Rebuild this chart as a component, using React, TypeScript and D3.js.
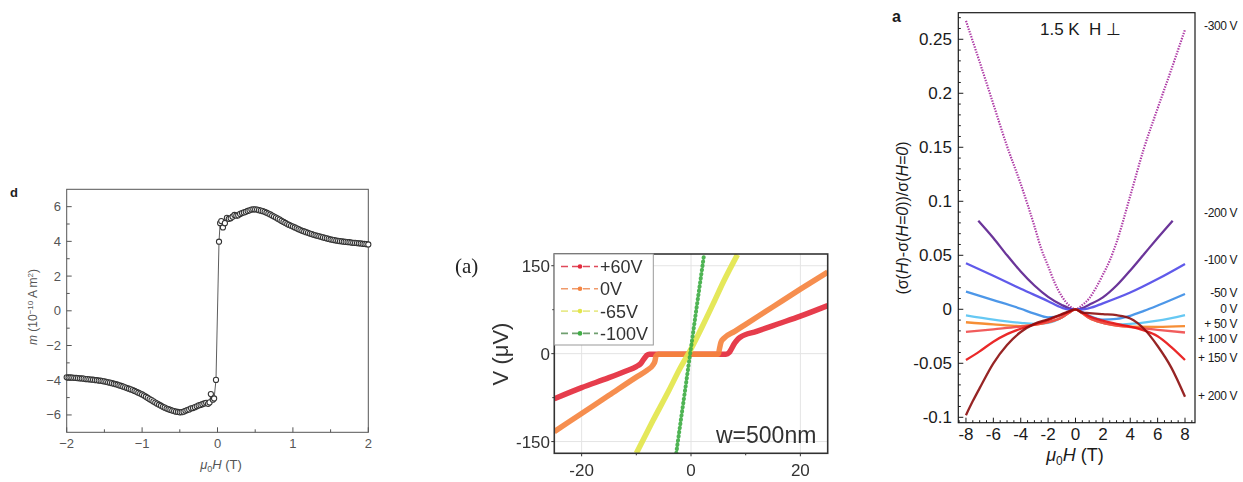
import React from 'react';
import * as d3 from 'd3';

// ---------- Panel d: magnetic moment loop ----------
const momentNegStart = -2;
const momentStep = 0.025;
const momentNeg = [
  -3.83, -3.84, -3.84, -3.85, -3.86, -3.87, -3.88, -3.89, -3.9, -3.91, -3.93, -3.94, -3.95, -3.96, -3.97, -3.99,
  -4.0, -4.02, -4.03, -4.05, -4.07, -4.09, -4.12, -4.14, -4.17, -4.2, -4.23, -4.26, -4.3, -4.33, -4.37, -4.41,
  -4.45, -4.49, -4.53, -4.57, -4.62, -4.67, -4.72, -4.77, -4.82, -4.88, -4.95, -5.02, -5.09, -5.15, -5.22, -5.29,
  -5.35, -5.41, -5.47, -5.53, -5.58, -5.63, -5.67, -5.71, -5.75, -5.78, -5.81, -5.83, -5.85, -5.84, -5.81, -5.76,
  -5.72, -5.68, -5.62, -5.6, -5.55, -5.5, -5.45, -5.42, -5.38, -5.34, -5.3, -5.36,
];
const coreField = [-0.105, -0.088, -0.062, -0.045, -0.02, 0.02, 0.035, 0.05, 0.072, 0.098];
const coreMoment = [-5.28, -4.8, -5.12, -5.05, -3.98, 3.98, 5.05, 5.17, 4.8, 5.05];
const momentPosStart = 0.125;
const momentPos = [
  5.35, 5.3, 5.33, 5.42, 5.52, 5.48, 5.5, 5.58, 5.63, 5.67, 5.7, 5.75, 5.79, 5.83, 5.85, 5.84,
  5.83, 5.8, 5.77, 5.74, 5.7, 5.65, 5.6, 5.55, 5.49, 5.43, 5.37, 5.31, 5.25, 5.18, 5.12, 5.06,
  5.0, 4.95, 4.9, 4.85, 4.8, 4.75, 4.7, 4.65, 4.61, 4.57, 4.53, 4.49, 4.45, 4.42, 4.38, 4.35,
  4.32, 4.29, 4.26, 4.23, 4.2, 4.17, 4.14, 4.11, 4.09, 4.07, 4.05, 4.03, 4.01, 4.0, 3.98, 3.97,
  3.96, 3.95, 3.93, 3.92, 3.91, 3.9, 3.89, 3.88, 3.86, 3.85, 3.84, 3.82,
];
const dXTicks = [-2, -1, 0, 1, 2];
const dYTicks = [-6, -4, -2, 0, 2, 4, 6];

// ---------- Panel (a) middle: V–I curves at gate voltages ----------
const ivSeries = [
  {
    label: '+60V', color: '#e42a3c', legend: '#e0485a',
    x: [-25, -20, -15, -12, -10, -9.2, -8.6, -8.1, -7.6, -6, 0, 5, 6.4, 7, 7.5, 8, 8.5, 9, 12, 16, 20, 25],
    y: [-77, -58, -41, -30, -22, -17, -9, -3, -1, -1, -1, -1, -1, 2, 10, 18, 24, 28, 38, 51, 64, 82],
  },
  {
    label: '0V', color: '#f5843f', legend: '#f09a6a',
    x: [-25, -20, -15, -10, -8, -7, -6.6, -6.4, -6, 0, 5, 5.2, 5.5, 6, 8, 10, 15, 20, 25],
    y: [-133, -102, -71, -40, -28, -20, -13, -4, -1, -1, -1, 8, 20, 26, 38, 50, 80, 110, 139],
  },
  {
    label: '-65V', color: '#e3e64c', legend: '#e8ea8c',
    x: [-10, -7, -4, -2, 0, 2, 4, 6, 8.5],
    y: [-170, -115, -62, -25, 8, 45, 84, 124, 169],
  },
  {
    label: '-100V', color: '#3fae45', legend: '#6f9f6f',
    x: [-2.7, -2, -1, 0, 1, 2, 2.4],
    y: [-170, -123, -57, 10, 77, 143, 170],
  },
];
const ivXTicks = [-20, 0, 20];
const ivXMinor = [-10, 10];
const ivYTicks = [-150, 0, 150];
const ivYMinor = [-75, 75];

// ---------- Panel a (right): magnetoconductance vs field ----------
const mcSeries = [
  {
    label: '-300 V', color: '#a5269c', dotted: true, labelY: 26,
    h: [-8, -7, -6, -5, -4, -3, -2.5, -2, -1.5, -1, -0.5, 0, 0.5, 1, 1.5, 2, 2.5, 3, 4, 5, 6, 7, 8],
    v: [0.267, 0.229, 0.19, 0.151, 0.116, 0.077, 0.056, 0.04, 0.024, 0.012, 0.004, 0, 0.004, 0.01, 0.02, 0.032, 0.045, 0.062, 0.105, 0.149, 0.186, 0.222, 0.259],
  },
  {
    label: '-200 V', color: '#5b1f8e', labelY: 213,
    h: [-7.1, -6, -5, -4, -3, -2, -1, -0.5, 0, 0.5, 1, 2, 3, 4, 5, 6, 7.1],
    v: [0.082, 0.066, 0.05, 0.035, 0.022, 0.0115, 0.004, 0.0012, 0, 0.0012, 0.0042, 0.011, 0.022, 0.036, 0.051, 0.066, 0.082],
  },
  {
    label: '-100 V', color: '#4f48e8', labelY: 260,
    h: [-8, -6, -4, -2, -1, -0.5, 0, 0.5, 1, 2, 4, 6, 8],
    v: [0.0426, 0.031, 0.019, 0.0075, 0.0015, 0, 0, 0, 0.001, 0.0055, 0.0155, 0.028, 0.042],
  },
  {
    label: '-50 V', color: '#3a8ce6', labelY: 293,
    h: [-8, -6, -4, -3, -2, -1, -0.5, 0, 0.5, 1, 2, 3, 4, 5, 6, 8],
    v: [0.0163, 0.0085, 0.0005, -0.004, -0.0075, -0.0055, -0.0025, 0, -0.0025, -0.006, -0.0095, -0.0088, -0.006, -0.0015, 0.0035, 0.0142],
  },
  {
    label: '0 V', color: '#55c2f2', labelY: 309,
    h: [-8, -6, -4, -3, -2, -1, -0.5, 0, 0.5, 1, 2, 3, 4, 6, 8],
    v: [-0.0056, -0.0095, -0.0125, -0.0135, -0.0125, -0.0075, -0.0035, 0, -0.0035, -0.0075, -0.0125, -0.014, -0.0135, -0.0105, -0.0053],
  },
  {
    label: '+ 50 V', color: '#f5821f', labelY: 324,
    h: [-8, -6, -4, -3, -2, -1, -0.5, 0, 0.5, 1, 2, 3, 4, 6, 8],
    v: [-0.012, -0.014, -0.0155, -0.0145, -0.012, -0.0075, -0.0035, 0, -0.0038, -0.008, -0.0125, -0.015, -0.016, -0.0162, -0.0155],
  },
  {
    label: '+ 100 V', color: '#f04a4a', labelY: 339,
    h: [-8, -6, -4, -3, -2, -1, -0.5, 0, 0.5, 1, 2, 3, 4, 6, 8],
    v: [-0.021, -0.0185, -0.016, -0.0145, -0.012, -0.0075, -0.0035, 0, -0.0038, -0.008, -0.0125, -0.015, -0.0165, -0.019, -0.0215],
  },
  {
    label: '+ 150 V', color: '#e81212', labelY: 358,
    h: [-8, -7, -6, -5, -4, -3, -2, -1, -0.5, 0, 0.5, 1, 2, 3, 4, 5, 6, 7, 8],
    v: [-0.047, -0.039, -0.03, -0.023, -0.018, -0.014, -0.01, -0.005, -0.0025, 0, -0.003, -0.0065, -0.0105, -0.0135, -0.016, -0.0195, -0.025, -0.035, -0.047],
  },
  {
    label: '+ 200 V', color: '#8c0d0d', labelY: 396,
    h: [-8, -7.5, -7, -6, -5, -4, -3, -2, -1, -0.5, 0, 0.5, 1, 2, 3, 4, 5, 6, 7, 8],
    v: [-0.098, -0.085, -0.073, -0.05, -0.033, -0.021, -0.0135, -0.0093, -0.0045, -0.002, 0, -0.003, -0.0035, -0.0045, -0.0055, -0.0085, -0.018, -0.034, -0.054, -0.081],
  },
];
const mcXTicks = [-8, -6, -4, -2, 0, 2, 4, 6, 8];
const mcYTicks = [-0.1, -0.05, 0, 0.05, 0.1, 0.15, 0.2, 0.25];

const SANS = '"Liberation Sans", Arial, sans-serif';

function PanelD() {
  const x = d3.scaleLinear().domain([-2, 2]).range([66.7, 368.3]);
  const y = d3.scaleLinear().domain([-7, 7]).range([432.3, 189.3]);
  const pts: [number, number][] = [
    ...momentNeg.map((m, i) => [momentNegStart + i * momentStep, m] as [number, number]),
    ...coreField.map((h, i) => [h, coreMoment[i]] as [number, number]),
    ...momentPos.map((m, i) => [momentPosStart + i * momentStep, m] as [number, number]),
  ];
  const line = d3.line<[number, number]>().x((d) => x(d[0])).y((d) => y(d[1]));
  const [x0, x1] = x.range();
  const [yb, yt] = y.range();
  const gray = '#555';
  const minorX = d3.range(-1.5, 2, 1);
  const minorY = d3.range(-5, 6, 2);
  return (
    <g fontFamily={SANS}>
      <text x={10} y={197} fontSize={13} fontWeight="bold" fill="#222">d</text>
      <rect x={x0} y={yt} width={x1 - x0} height={yb - yt} fill="none" stroke={gray} strokeWidth={1} />
      {dXTicks.map((t) => (
        <g key={'dx' + t}>
          <line x1={x(t)} x2={x(t)} y1={yb} y2={yb - 5} stroke={gray} />
          <text x={x(t)} y={448} fontSize={13} textAnchor="middle" fill={gray}>{t < 0 ? '\u2212' + Math.abs(t) : t}</text>
        </g>
      ))}
      {minorX.map((t) => (
        <line key={'dmx' + t} x1={x(t)} x2={x(t)} y1={yb} y2={yb - 3} stroke={gray} />
      ))}
      {dYTicks.map((t) => (
        <g key={'dy' + t}>
          <line x1={x0} x2={x0 + 5} y1={y(t)} y2={y(t)} stroke={gray} />
          <text x={61} y={y(t) + 4.5} fontSize={13} textAnchor="end" fill={gray}>{t < 0 ? '\u2212' + Math.abs(t) : t}</text>
        </g>
      ))}
      {minorY.map((t) => (
        <line key={'dmy' + t} x1={x0} x2={x0 + 3} y1={y(t)} y2={y(t)} stroke={gray} />
      ))}
      <path d={line(pts) || ''} fill="none" stroke="#333" strokeWidth={0.8} />
      {pts.map((p, i) => (
        <circle key={i} cx={x(p[0])} cy={y(p[1])} r={2.6} fill="#fff" stroke="#333" strokeWidth={1.05} />
      ))}
      <text transform="translate(37,307) rotate(-90)" fontSize={12} textAnchor="middle" fill={gray}>
        <tspan fontStyle="italic">m</tspan> (10<tspan dy={-4} fontSize={8}>{'\u2212'}10</tspan>
        <tspan dy={4}> A m</tspan><tspan dy={-4} fontSize={8}>2</tspan><tspan dy={4}>)</tspan>
      </text>
      <text x={221} y={469} fontSize={13} textAnchor="middle" fill={gray}>
        <tspan fontStyle="italic">μ</tspan><tspan dy={3} fontSize={9}>0</tspan>
        <tspan dy={-3} fontStyle="italic">H</tspan> (T)
      </text>
    </g>
  );
}

function PanelIV() {
  const x = d3.scaleLinear().domain([-25, 25]).range([554.3, 827.7]);
  const y = d3.scaleLinear().domain([-170, 170]).range([453.3, 254]);
  const [x0, x1] = x.range();
  const [yb, yt] = y.range();
  const ink = '#333';
  return (
    <g fontFamily={SANS} filter="url(#soft)">
      <defs>
        <clipPath id="ivclip">
          <rect x={x0} y={yt} width={x1 - x0} height={yb - yt} />
        </clipPath>
      </defs>
      <text x={455} y={273} fontSize={21} fontFamily='"Liberation Serif", serif' fill="#222">(a)</text>
      {ivXTicks.map((t) => (
        <line key={'gx' + t} x1={x(t)} x2={x(t)} y1={yt} y2={yb} stroke="#e4e4e4" strokeWidth={1} />
      ))}
      {ivYTicks.map((t) => (
        <line key={'gy' + t} x1={x0} x2={x1} y1={y(t)} y2={y(t)} stroke="#e4e4e4" strokeWidth={1} />
      ))}
      <g clipPath="url(#ivclip)">
        {ivSeries.map((s) => {
          const d = d3.line<number>()
            .x((_, i) => x(s.x[i]))
            .y((v) => y(v))
            .curve(d3.curveMonotoneX)(s.y) || '';
          const dotted = s.label === '-100V';
          return (
            <path key={s.label} d={d} fill="none" stroke={s.color}
              strokeWidth={dotted ? 4 : 5.5} strokeLinecap={dotted ? 'round' : 'butt'}
              strokeDasharray={dotted ? '0.6 3.6' : undefined} strokeLinejoin="round" opacity={0.92} />
          );
        })}
      </g>
      <rect x={x0} y={yt} width={x1 - x0} height={yb - yt} fill="none" stroke={ink} strokeWidth={1.6} />
      {ivYTicks.map((t) => (
        <g key={'ly' + t}>
          <line x1={x0 - 3} x2={x0} y1={y(t)} y2={y(t)} stroke={ink} />
          <text x={550} y={y(t) + 6} fontSize={17} textAnchor="end" fill={ink}>{t}</text>
        </g>
      ))}
      {ivYMinor.map((t) => (
        <line key={'my' + t} x1={x0 - 2} x2={x0} y1={y(t)} y2={y(t)} stroke={ink} />
      ))}
      {ivXTicks.map((t) => (
        <g key={'lx' + t}>
          <line x1={x(t)} x2={x(t)} y1={yb} y2={yb + 3} stroke={ink} />
          <text x={x(t)} y={476} fontSize={17} textAnchor="middle" fill={ink}>{t}</text>
        </g>
      ))}
      {ivXMinor.map((t) => (
        <line key={'mx' + t} x1={x(t)} x2={x(t)} y1={yb} y2={yb + 2} stroke={ink} />
      ))}
      {/* legend */}
      <rect x={x0} y={yt} width={99} height={91} fill="#fff" stroke="#999" strokeWidth={1} />
      {ivSeries.map((s, i) => {
        const ly = 266.5 + i * 22.3;
        return (
          <g key={'lg' + s.label}>
            <line x1={561} x2={598} y1={ly} y2={ly} stroke={s.legend} strokeWidth={1.6} strokeDasharray="7 4" />
            <circle cx={580} cy={ly} r={2.3} fill={s.color} />
            <text x={600} y={ly + 6.5} fontSize={18} fill={ink}>{s.label}</text>
          </g>
        );
      })}
      <text transform="translate(508,354) rotate(-90)" fontSize={22} textAnchor="middle" fill={ink}>V (μV)</text>
      <text x={716} y={443} fontSize={23} fill={ink}>w=500nm</text>
    </g>
  );
}

function PanelMC() {
  const x = d3.scaleLinear().domain([-8.56, 8.73]).range([958.3, 1195]);
  const y = d3.scaleLinear().domain([-0.105, 0.2746]).range([422.7, 12.7]);
  const [x0, x1] = x.range();
  const [yb, yt] = y.range();
  const ink = '#1a1a1a';
  const minorX = d3.range(-8.5, 8.6, 0.5).filter((t) => Math.abs(t % 2) > 1e-6);
  const minorY = d3.range(-10, 28).map((k) => k / 100).filter((t) => Math.abs(Math.round(t * 100) % 5) !== 0);
  return (
    <g fontFamily={SANS}>
      <defs>
        <clipPath id="mcclip">
          <rect x={x0} y={yt} width={x1 - x0} height={yb - yt} />
        </clipPath>
      </defs>
      <text x={892} y={22} fontSize={16} fontWeight="bold" fill={ink}>a</text>
      <g clipPath="url(#mcclip)">
        {mcSeries.map((s) => {
          const d = d3.line<number>()
            .x((_, i) => x(s.h[i]))
            .y((v) => y(v))
            .curve(d3.curveMonotoneX)(s.v) || '';
          return (
            <path key={s.label} d={d} fill="none" stroke={s.color}
              strokeWidth={s.dotted ? 2.2 : 2.3} strokeDasharray={s.dotted ? '1.4 1.3' : undefined}
              strokeLinejoin="round" opacity={0.9} />
          );
        })}
      </g>
      <rect x={x0} y={yt} width={x1 - x0} height={yb - yt} fill="none" stroke={ink} strokeWidth={1.2} />
      {mcXTicks.map((t) => (
        <g key={'x' + t}>
          <line x1={x(t)} x2={x(t)} y1={yb} y2={yb - 5} stroke={ink} />
          <text x={x(t)} y={440} fontSize={17} textAnchor="middle" fill={ink}>{t}</text>
        </g>
      ))}
      {minorX.map((t) => (
        <line key={'mx' + t} x1={x(t)} x2={x(t)} y1={yb} y2={yb - 2.5} stroke={ink} />
      ))}
      {mcYTicks.map((t) => (
        <g key={'y' + t}>
          <line x1={x0} x2={x0 + 5} y1={y(t)} y2={y(t)} stroke={ink} />
          <text x={952} y={y(t) + 6} fontSize={17} textAnchor="end" fill={ink}>{t}</text>
        </g>
      ))}
      {minorY.map((t) => (
        <line key={'my' + t} x1={x0} x2={x0 + 2.5} y1={y(t)} y2={y(t)} stroke={ink} />
      ))}
      <text x={1040} y={35} fontSize={17} fill={ink}>1.5 K</text>
      <text x={1089} y={35} fontSize={17} fill={ink}>H ⊥</text>
      {mcSeries.map((s) => (
        <text key={'r' + s.label} x={1237} y={s.labelY + 4} fontSize={12} letterSpacing={-0.4}
          textAnchor="end" fill={ink}>{s.label}</text>
      ))}
      <text transform="translate(908,218) rotate(-90)" fontSize={16} textAnchor="middle" fill={ink}>
        (σ(<tspan fontStyle="italic">H</tspan>)-σ(<tspan fontStyle="italic">H=0</tspan>))/σ(<tspan fontStyle="italic">H=0</tspan>)
      </text>
      <text x={1075} y={461} fontSize={18} textAnchor="middle" fill={ink}>
        <tspan fontStyle="italic">μ</tspan><tspan dy={4} fontSize={12}>0</tspan>
        <tspan dy={-4} fontStyle="italic">H</tspan> (T)
      </text>
    </g>
  );
}

export default function App() {
  return (
    <div style={{ position: 'absolute', left: 0, top: 0 }}>
      <svg width={1243} height={482} style={{ display: 'block', background: '#fff' }}>
        <defs>
          <filter id="soft" x="-5%" y="-5%" width="110%" height="110%">
            <feGaussianBlur stdDeviation={0.6} />
          </filter>
        </defs>
        <rect width={1243} height={482} fill="#fff" />
        <PanelD />
        <PanelIV />
        <PanelMC />
      </svg>
    </div>
  );
}
